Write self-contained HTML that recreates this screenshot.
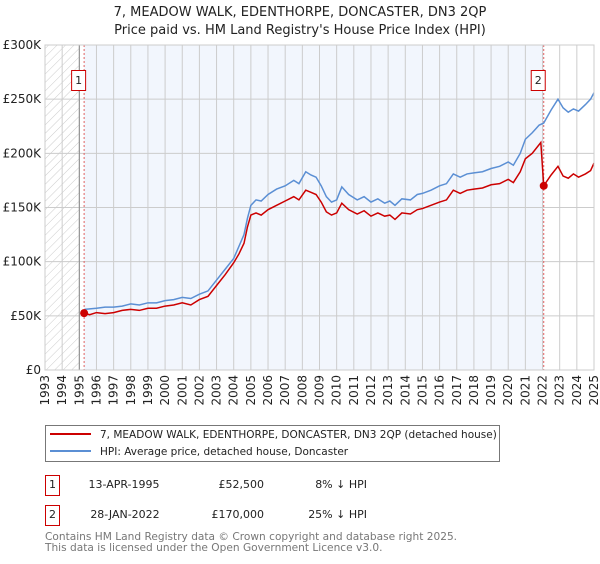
<!DOCTYPE html>
<html><head><meta charset="utf-8"><style>
body{margin:0;background:#fff;font-family:"DejaVu Sans","Liberation Sans",sans-serif;}
svg text{font-family:"DejaVu Sans","Liberation Sans",sans-serif;}
</style></head><body>
<svg id="chart" width="600" height="560" xmlns="http://www.w3.org/2000/svg">
<defs><pattern id="hatch" width="6" height="6" patternUnits="userSpaceOnUse" patternTransform="rotate(45)"><line x1="0" y1="0" x2="0" y2="6" stroke="#ccc" stroke-width="1"/></pattern></defs>
<text x="300" y="16" text-anchor="middle" font-size="13" fill="#222">7, MEADOW WALK, EDENTHORPE, DONCASTER, DN3 2QP</text>
<text x="300" y="34" text-anchor="middle" font-size="13" fill="#222">Price paid vs. HM Land Registry's House Price Index (HPI)</text>
<g id="plot"></g>
<g>
<rect x="45.5" y="425.5" width="454" height="36" fill="#fff" stroke="#777"/>
<line x1="50" y1="434" x2="91" y2="434" stroke="#cc0000" stroke-width="2"/>
<text x="100" y="438" font-size="10.5" fill="#222">7, MEADOW WALK, EDENTHORPE, DONCASTER, DN3 2QP (detached house)</text>
<line x1="50" y1="451" x2="91" y2="451" stroke="#5b8fd4" stroke-width="2"/>
<text x="100" y="455" font-size="10.5" fill="#222">HPI: Average price, detached house, Doncaster</text>
</g>
<g font-size="11" fill="#222">
<rect x="45.5" y="475.5" width="14" height="20" fill="none" stroke="#cc0000"/>
<text x="52.5" y="488" text-anchor="middle">1</text>
<text x="124" y="488" text-anchor="middle">13-APR-1995</text>
<text x="264" y="488" text-anchor="end">£52,500</text>
<text x="367" y="488" text-anchor="end">8% ↓ HPI</text>
</g>
<g font-size="11" fill="#222">
<rect x="45.5" y="505.5" width="14" height="20" fill="none" stroke="#cc0000"/>
<text x="52.5" y="518" text-anchor="middle">2</text>
<text x="125" y="518" text-anchor="middle">28-JAN-2022</text>
<text x="264" y="518" text-anchor="end">£170,000</text>
<text x="367" y="518" text-anchor="end">25% ↓ HPI</text>
</g>
<text x="45" y="540" font-size="10.6" fill="#777">Contains HM Land Registry data © Crown copyright and database right 2025.</text>
<text x="45" y="551" font-size="10.6" fill="#777">This data is licensed under the Open Government Licence v3.0.</text>
</svg>
<script>
const hpiYears=[1995.3,1996,1996.5,1997,1997.5,1998,1998.5,1999,1999.5,2000,2000.5,2001,2001.5,2002,2002.5,2003,2003.5,2004,2004.3,2004.6,2004.8,2005,2005.3,2005.6,2006,2006.5,2007,2007.5,2007.8,2008.2,2008.5,2008.8,2009.1,2009.4,2009.7,2010,2010.3,2010.7,2011.2,2011.6,2012,2012.4,2012.8,2013.1,2013.4,2013.8,2014.3,2014.7,2015,2015.5,2016,2016.4,2016.8,2017.2,2017.6,2018,2018.5,2019,2019.5,2020,2020.3,2020.7,2021,2021.4,2021.8,2022.07,2022.5,2022.9,2023.2,2023.5,2023.8,2024.1,2024.5,2024.8,2025];
const hpiValues=[56,57,58,58,59,61,60,62,62,64,65,67,66,70,73,83,93,103,114,125,140,152,157,156,162,167,170,175,172,183,180,178,170,160,155,157,169,162,157,160,155,158,154,156,152,158,157,162,163,166,170,172,181,178,181,182,183,186,188,192,189,200,213,219,226,228,240,250,242,238,241,239,245,250,256];
const priceYears=[1995.28,1995.6,1996,1996.5,1997,1997.5,1998,1998.5,1999,1999.5,2000,2000.5,2001,2001.5,2002,2002.5,2003,2003.5,2004,2004.3,2004.6,2004.8,2005,2005.3,2005.6,2006,2006.5,2007,2007.5,2007.8,2008.2,2008.5,2008.8,2009.1,2009.4,2009.7,2010,2010.3,2010.7,2011.2,2011.6,2012,2012.4,2012.8,2013.1,2013.4,2013.8,2014.3,2014.7,2015,2015.5,2016,2016.4,2016.8,2017.2,2017.6,2018,2018.5,2019,2019.5,2020,2020.3,2020.7,2021,2021.4,2021.9,2022.07,2022.5,2022.9,2023.2,2023.5,2023.8,2024.1,2024.5,2024.8,2025];
const priceValues=[52.5,51,53,52,53,55,56,55,57,57,59,60,62,60,65,68,78,88,99,107,117,132,143,145,143,148,152,156,160,157,166,164,162,155,146,143,145,154,148,144,147,142,145,142,143,139,145,144,148,149,152,155,157,166,163,166,167,168,171,172,176,173,183,195,200,210,170,180,188,179,177,181,178,181,184,191];
const saleYears=[1995.28,2022.07];
const saleValues=[52.5,170];
const saleLabels=["1","2"];
const yTicks=[0,50,100,150,200,250,300];
const yTickLabels=["£0","£50K","£100K","£150K","£200K","£250K","£300K"];
const xTicks=[1993,1994,1995,1996,1997,1998,1999,2000,2001,2002,2003,2004,2005,2006,2007,2008,2009,2010,2011,2012,2013,2014,2015,2016,2017,2018,2019,2020,2021,2022,2023,2024,2025];

const X0=45,X1=594,Y0=370,Y1=45,XMIN=1993,XMAX=2025,YMAX=300;
const xs=v=>X0+(v-XMIN)/(XMAX-XMIN)*(X1-X0);
const ys=v=>Y0-v/YMAX*(Y0-Y1);
const NS="http://www.w3.org/2000/svg";
const g=document.getElementById('plot');
function mk(tag,attrs){const e=document.createElementNS(NS,tag);for(const k in attrs)e.setAttribute(k,attrs[k]);g.appendChild(e);return e;}
let e;
e=mk('rect',{x:xs(1995.28),y:Y1,width:xs(2022.07)-xs(1995.28),height:Y0-Y1,fill:'#f2f6fd'});


e=mk('rect',{x:X0,y:Y1,width:xs(1995)-X0,height:Y0-Y1,fill:'url(#hatch)'});


yTicks.forEach((t,i)=>{
 e=mk('line',{x1:X0,x2:X1,y1:ys(t),y2:ys(t),stroke:'#ccc','stroke-width':1});
 
 
 e=mk('text',{x:X0-4,y:ys(t)+4,'text-anchor':'end','font-size':12,fill:'#222'});
 e.textContent=yTickLabels[i];
 
 
});
xTicks.forEach(t=>{
 e=mk('line',{x1:xs(t),x2:xs(t),y1:Y1,y2:Y0,stroke:'#ccc','stroke-width':1});
 
 
 e=mk('text',{x:0,y:0,'text-anchor':'end','font-size':12,fill:'#222',transform:`translate(${xs(t)+4},${Y0+5}) rotate(-90)`});
 e.textContent=String(t);
 
 
});
e=mk('line',{x1:xs(1995),x2:xs(1995),y1:Y1,y2:Y0,stroke:'#888','stroke-width':1});


saleYears.forEach((s,i)=>{
 e=mk('line',{x1:xs(s),x2:xs(s),y1:Y1,y2:Y0,stroke:'#e06060','stroke-width':1,'stroke-dasharray':'2,2'});
 
 
 e=mk('rect',{x:xs(s)-12.5,y:70.5,width:14,height:20,fill:'#fff',stroke:'#cc0000'});
 
 
 e=mk('text',{x:xs(s)-5.5,y:84,'text-anchor':'middle','font-size':11,fill:'#222'});
 e.textContent=saleLabels[i];
 
 
});
e=mk('polyline',{points:hpiYears.map((y,i)=>xs(y)+','+ys(hpiValues[i])).join(' '),fill:'none',stroke:'#5b8fd4','stroke-width':1.5});


e=mk('polyline',{points:priceYears.map((y,i)=>xs(y)+','+ys(priceValues[i])).join(' '),fill:'none',stroke:'#cc0000','stroke-width':1.5});


saleYears.forEach((s,i)=>{
 e=mk('circle',{cx:xs(s),cy:ys(saleValues[i]),r:4,fill:'#cc0000'});
 
 
});
e=mk('rect',{x:X0,y:Y1,width:X1-X0,height:Y0-Y1,fill:'none',stroke:'#ccc'});


</script>
</body></html>
